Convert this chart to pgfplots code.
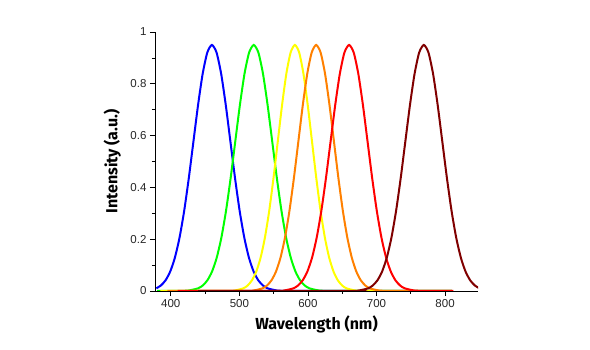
\documentclass[border=0pt]{standalone}
\usepackage{pgfplots}
\pgfplotsset{compat=1.18}
\usepackage{fontspec}
\setmainfont{Liberation Sans}
\newfontfamily\labfont{Fira Sans}
\definecolor{cblue}{RGB}{0,0,255}
\definecolor{cgreen}{RGB}{0,255,0}
\definecolor{cyellow}{RGB}{255,255,0}
\definecolor{corange}{RGB}{255,128,0}
\definecolor{cred}{RGB}{255,0,0}
\definecolor{cdred}{RGB}{128,0,0}
\begin{document}
\begin{tikzpicture}
\path[use as bounding box] (-155pt,-59pt) rectangle (435pt,291pt);
\begin{axis}[
  at={(0,0)}, anchor=south west,
  scale only axis, width=323pt, height=259pt,
  xmin=377, xmax=848, ymin=0, ymax=1,
  axis x line=bottom, axis y line=left,
  axis line style={-, line width=0.8pt},
  xtick={400,500,600,700,800},
  minor xtick={450,550,650,750,850},
  ytick={0,0.2,0.4,0.6,0.8,1},
  yticklabels={0,0.2,0.4,0.6,0.8,1},
  minor ytick={0.1,0.3,0.5,0.7,0.9},
  tick align=outside,
  major tick length=5pt, minor tick length=3pt,
  tick style={line width=0.6pt, black},
  ticklabel style={font=\fontsize{11.5}{13}\selectfont, text=black!85},
  /pgf/number format/assume math mode=true,
  xlabel={\labfont\bfseries Wavelength (nm)},
  ylabel={\labfont\bfseries Intensity (a.u.)},
  label style={font=\fontsize{16}{18}\selectfont},
  xlabel style={at={(axis description cs:0.5,-0.13)}, anchor=center},
  ylabel style={at={(axis description cs:-0.132,0.5)}, anchor=center},
  clip=true,
  every axis plot/.append style={line width=2pt, smooth, tension=0.4},
]
% blue c=460
\addplot[cblue] coordinates {
(379,0.0105)(385.75,0.0216)(392.5,0.0417)(399.25,0.0756)(406,0.1286)(412.75,0.2055)(419.5,0.3084)(426.25,0.4349)(433,0.5762)(439.75,0.7171)(446.5,0.8384)(453.25,0.9208)(460,0.95)
(466.75,0.9208)(473.5,0.8384)(480.25,0.7171)(487,0.5762)(493.75,0.4349)(500.5,0.3084)(507.25,0.2055)(514,0.1286)(520.75,0.0756)(527.5,0.0417)(534.25,0.0216)(541,0.0105)(554.5,0.0021)(568,0.0003)(600,0)(810,0)};
% green c=521
\addplot[cgreen] coordinates {
(380,0)(413,0.0003)(426.5,0.0021)(440,0.0105)(446.75,0.0216)(453.5,0.0417)(460.25,0.0756)(467,0.1286)(473.75,0.2055)(480.5,0.3084)(487.25,0.4349)(494,0.5762)(500.75,0.7171)(507.5,0.8384)(514.25,0.9208)(521,0.95)
(527.75,0.9208)(534.5,0.8384)(541.25,0.7171)(548,0.5762)(554.75,0.4349)(561.5,0.3084)(568.25,0.2055)(575,0.1286)(581.75,0.0756)(588.5,0.0417)(595.25,0.0216)(602,0.0105)(615.5,0.0021)(629,0.0003)(660,0)(810,0)};
% yellow c=581
\addplot[cyellow] coordinates {
(385,0)(481,0.0003)(493.5,0.0021)(506,0.0105)(512.25,0.0216)(518.5,0.0417)(524.75,0.0756)(531,0.1286)(537.25,0.2055)(543.5,0.3084)(549.75,0.4349)(556,0.5762)(562.25,0.7171)(568.5,0.8384)(574.75,0.9208)(581,0.95)
(587.25,0.9208)(593.5,0.8384)(599.75,0.7171)(606,0.5762)(612.25,0.4349)(618.5,0.3084)(624.75,0.2055)(631,0.1286)(637.25,0.0756)(643.5,0.0417)(649.75,0.0216)(656,0.0105)(668.5,0.0021)(681,0.0003)(710,0)(810,0)};
% orange c=612
\addplot[corange] coordinates {
(395,0)(508,0.0003)(521,0.0021)(534,0.0105)(540.5,0.0216)(547,0.0417)(553.5,0.0756)(560,0.1286)(566.5,0.2055)(573,0.3084)(579.5,0.4349)(586,0.5762)(592.5,0.7171)(599,0.8384)(605.5,0.9208)(612,0.95)
(618.5,0.9208)(625,0.8384)(631.5,0.7171)(638,0.5762)(644.5,0.4349)(651,0.3084)(657.5,0.2055)(664,0.1286)(670.5,0.0756)(677,0.0417)(683.5,0.0216)(690,0.0105)(703,0.0021)(716,0.0003)(745,0)(810,0)};
% red c=660
\addplot[cred] coordinates {
(410,0)(552,0.0003)(565.5,0.0021)(579,0.0105)(585.75,0.0216)(592.5,0.0417)(599.25,0.0756)(606,0.1286)(612.75,0.2055)(619.5,0.3084)(626.25,0.4349)(633,0.5762)(639.75,0.7171)(646.5,0.8384)(653.25,0.9208)(660,0.95)
(666.75,0.9208)(673.5,0.8384)(680.25,0.7171)(687,0.5762)(693.75,0.4349)(700.5,0.3084)(707.25,0.2055)(714,0.1286)(720.75,0.0756)(727.5,0.0417)(734.25,0.0216)(741,0.0105)(754.5,0.0021)(768,0.0003)(790,0)(812,0)};
% dark red c=769
\addplot[cdred] coordinates {
(440,0)(661,0.0003)(674.5,0.0021)(688,0.0105)(694.75,0.0216)(701.5,0.0417)(708.25,0.0756)(715,0.1286)(721.75,0.2055)(728.5,0.3084)(735.25,0.4349)(742,0.5762)(748.75,0.7171)(755.5,0.8384)(762.25,0.9208)(769,0.95)
(775.75,0.9208)(782.5,0.8384)(789.25,0.7171)(796,0.5762)(802.75,0.4349)(809.5,0.3084)(816.25,0.2055)(823,0.1286)(829.75,0.0756)(836.5,0.0417)(843.25,0.0216)(850,0.0105)};
\end{axis}
\end{tikzpicture}
\end{document}
